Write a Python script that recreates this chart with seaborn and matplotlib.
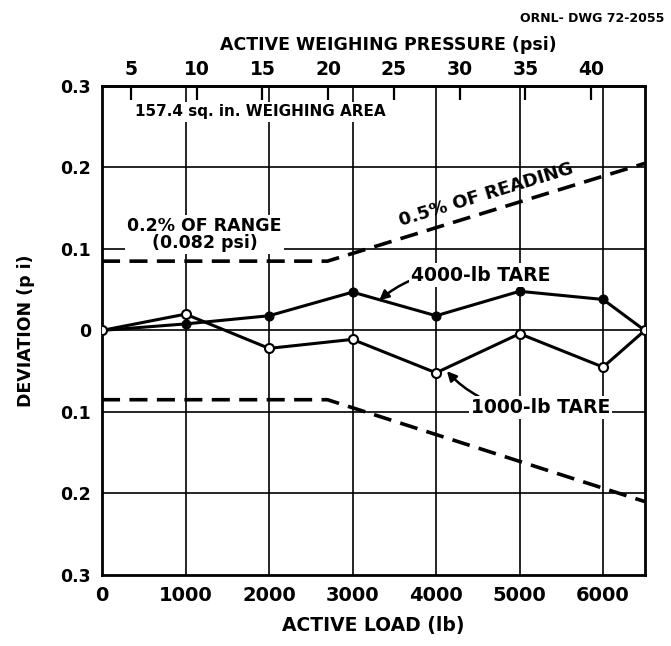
import matplotlib
matplotlib.use("Agg")
import matplotlib.pyplot as plt
import pandas as pd
import seaborn as sns

LOAD_LB = [0, 1000, 2000, 3000, 4000, 5000, 6000, 6500]
TARE_4000 = [0.0, 0.008, 0.018, 0.047, 0.018, 0.048, 0.038, 0.0]
TARE_1000 = [0.0, 0.020, -0.022, -0.011, -0.052, -0.004, -0.045, 0.0]

# 허용오차 한계선 (0.2% of range -> 0.5% of reading)
LIMIT_LOAD = [0, 2700, 6500]
LIMIT_UPPER = [0.085, 0.085, 0.205]
LIMIT_LOWER = [-0.085, -0.085, -0.210]

Y_TICKS = [0.3, 0.2, 0.1, 0.0, -0.1, -0.2, -0.3]
Y_TICK_LABELS = ["0.3", "0.2", "0.1", "0", "0.1", "0.2", "0.3"]
X_TICKS = [0, 1000, 2000, 3000, 4000, 5000, 6000]
PSI_TICKS = [5, 10, 15, 20, 25, 30, 35, 40]

AREA_SQIN = 157.4
LOAD_OFFSET = 440  # 위쪽 압력 눈금이 그림에서 약간 밀려 있음

sns.set_theme(style="white")
plt.rcParams["font.family"] = ["DejaVu Sans"]
plt.rcParams["font.weight"] = "bold"
for key in ["text.color", "axes.labelcolor", "xtick.color", "ytick.color"]:
    plt.rcParams[key] = "black"

fig = plt.figure(figsize=(6.71, 6.46), dpi=100)
ax = fig.add_axes([0.152, 0.110, 0.809, 0.757])

# 격자
for x in X_TICKS[1:]:
    ax.axvline(x, color="black", lw=1.2, zorder=1)
for y in Y_TICKS[1:-1]:
    ax.axhline(y, color="black", lw=1.2, zorder=1)

df = pd.DataFrame({"load": LOAD_LB, "t4000": TARE_4000, "t1000": TARE_1000})
lim = pd.DataFrame({"load": LIMIT_LOAD, "up": LIMIT_UPPER, "low": LIMIT_LOWER})

for col in ["up", "low"]:
    sns.lineplot(data=lim, x="load", y=col, ax=ax, color="black", lw=2.6,
                 linestyle=(0, (5, 2.6)), zorder=2)

sns.lineplot(data=df, x="load", y="t4000", ax=ax, color="black", lw=2.2,
             marker="o", markersize=6.5, markerfacecolor="black",
             markeredgecolor="black", zorder=4)
sns.lineplot(data=df, x="load", y="t1000", ax=ax, color="black", lw=2.2,
             marker="o", markersize=6.5, markerfacecolor="white",
             markeredgecolor="black", markeredgewidth=1.5, zorder=5)

ax.set_xlim(0, 6500)
ax.set_ylim(-0.3, 0.3)
ax.set_xticks(X_TICKS)
ax.set_xticklabels([str(x) for x in X_TICKS], fontsize=14, fontweight="bold")
ax.set_yticks(Y_TICKS)
ax.set_yticklabels(Y_TICK_LABELS, fontsize=12.5, fontweight="bold")
ax.tick_params(axis="both", length=0, pad=8)
ax.set_xlabel("ACTIVE LOAD (lb)", fontsize=13.5, fontweight="bold", labelpad=8)
ax.set_ylabel("DEVIATION (p i)", fontsize=12.5, fontweight="bold", labelpad=18)
for s in ax.spines.values():
    s.set_color("black")
    s.set_linewidth(2)

# 위쪽 압력 축
top = ax.secondary_xaxis(
    "top",
    functions=(lambda l: (l + LOAD_OFFSET) / AREA_SQIN,
               lambda p: p * AREA_SQIN - LOAD_OFFSET),
)
top.set_xticks(PSI_TICKS)
top.set_xticklabels([str(p) for p in PSI_TICKS], fontsize=13.5, fontweight="bold")
top.tick_params(direction="in", length=10, width=1.6, pad=5, colors="black")
top.spines["top"].set_linewidth(2)

fig.text(0.578, 0.930, "ACTIVE WEIGHING PRESSURE (psi)", ha="center",
         va="center", fontsize=12.5, fontweight="bold")
fig.text(0.99, 0.972, "ORNL- DWG 72-2055", ha="right", va="center",
         fontsize=9, fontweight="bold")

box = dict(facecolor="white", edgecolor="none", pad=1.5)
ax.text(1900, 0.268, "157.4 sq. in. WEIGHING AREA", ha="center", va="center",
        fontsize=11, fontweight="bold", bbox=box, zorder=6)
ax.text(1230, 0.118, "0.2% OF RANGE\n(0.082 psi)", ha="center", va="center",
        fontsize=12.5, fontweight="bold", linespacing=0.95, bbox=box, zorder=6)
ax.text(4600, 0.166, "0.5% OF READING", ha="center", va="center",
        fontsize=13, fontweight="bold", rotation=17, zorder=6)

ax.annotate("4000-lb TARE", xy=(3320, 0.037), xytext=(3700, 0.068),
            ha="left", va="center", fontsize=13.5, fontweight="bold",
            bbox=box, zorder=6,
            arrowprops=dict(arrowstyle="-|>", color="black", lw=1.8,
                            connectionstyle="arc3,rad=0.25", shrinkA=0, shrinkB=0,
                            mutation_scale=14))
ax.annotate("1000-lb TARE", xy=(4130, -0.050), xytext=(4420, -0.095),
            ha="left", va="center", fontsize=13.5, fontweight="bold",
            bbox=box, zorder=6,
            arrowprops=dict(arrowstyle="-|>", color="black", lw=1.8,
                            connectionstyle="arc3,rad=-0.25", shrinkA=0, shrinkB=0,
                            mutation_scale=14))

fig.savefig("out.png", dpi=100, facecolor="white")
